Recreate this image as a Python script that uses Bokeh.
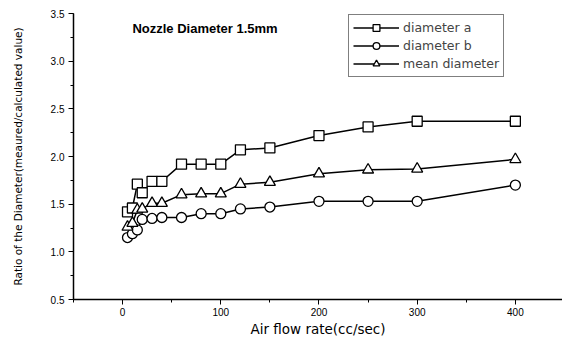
from bokeh.plotting import figure
from bokeh.models import Range1d, Label, Legend, LegendItem, SingleIntervalTicker, NumeralTickFormatter
from bokeh.embed import file_html
from bokeh.resources import INLINE

air_flow = [5, 10, 15, 20, 30, 40, 60, 80, 100, 120, 150, 200, 250, 300, 400]
diameter_a = [1.42, 1.46, 1.71, 1.62, 1.74, 1.74, 1.92, 1.92, 1.92, 2.07, 2.09, 2.22, 2.31, 2.37, 2.37]
diameter_b = [1.15, 1.19, 1.23, 1.34, 1.35, 1.36, 1.36, 1.40, 1.40, 1.45, 1.47, 1.53, 1.53, 1.53, 1.70]
mean_diameter = [1.26, 1.30, 1.44, 1.45, 1.51, 1.51, 1.60, 1.61, 1.61, 1.71, 1.73, 1.82, 1.86, 1.87, 1.97]

FONT = "Liberation Sans"
WIDE = "DejaVu Sans"

p = figure(width=562, height=339, output_backend="svg", toolbar_location=None,
           x_range=Range1d(-50, 448), y_range=Range1d(0.5, 3.5),
           min_border_left=73, min_border_right=0, min_border_top=13, min_border_bottom=40)
p.outline_line_color = None
p.grid.visible = False
p.background_fill_color = "white"

for ax in (p.xaxis[0], p.yaxis[0]):
    ax.axis_line_color = "black"
    ax.axis_line_width = 1.5
    ax.major_tick_line_color = "black"
    ax.minor_tick_line_color = "black"
    ax.major_tick_out = 5
    ax.major_tick_in = 0
    ax.minor_tick_out = 3
    ax.minor_tick_in = 0
    ax.major_label_text_font = FONT
    ax.major_label_text_font_size = "10px"
    ax.major_label_text_color = "black"
    ax.axis_label_text_font = WIDE
    ax.axis_label_text_font_style = "normal"
    ax.axis_label_text_color = "black"

p.xaxis.ticker = SingleIntervalTicker(interval=100, num_minor_ticks=2)
p.yaxis.ticker = SingleIntervalTicker(interval=0.5, num_minor_ticks=2)
p.yaxis.formatter = NumeralTickFormatter(format="0.0")
p.xaxis.axis_label = "Air flow rate(cc/sec)"
p.xaxis.axis_label_text_font_size = "13.5px"
p.xaxis.axis_label_standoff = 2
p.xaxis.major_label_standoff = 3
p.yaxis.axis_label = "Ratio of the Diameter(meaured/calculated value)"
p.yaxis.axis_label_text_font_size = "10.5px"
p.yaxis.axis_label_standoff = 24
p.yaxis.major_label_standoff = 4

lw = 1.5
la = p.line(air_flow, diameter_a, line_color="black", line_width=lw)
sa = p.scatter(air_flow, diameter_a, marker="square", size=10, fill_color="white",
               line_color="black", line_width=1.3)
lb = p.line(air_flow, diameter_b, line_color="black", line_width=lw)
sb = p.scatter(air_flow, diameter_b, marker="circle", size=10, fill_color="white",
               line_color="black", line_width=1.3)
lm = p.line(air_flow, mean_diameter, line_color="black", line_width=lw)
sm = p.scatter(air_flow, mean_diameter, marker="triangle", size=11, fill_color="white",
               line_color="black", line_width=1.3)

legend = Legend(items=[
    LegendItem(label="diameter a", renderers=[la, sa]),
    LegendItem(label="diameter b", renderers=[lb, sb]),
    LegendItem(label="mean diameter", renderers=[lm, sm]),
], location=(275, 222))
legend.border_line_color = "black"
legend.border_line_width = 1
legend.background_fill_alpha = 1
legend.label_text_font = WIDE
legend.label_text_font_size = "12.5px"
legend.glyph_width = 46
legend.glyph_height = 17
legend.label_height = 17
legend.spacing = 1
legend.padding = 4
legend.margin = 0
legend.label_standoff = 4
p.add_layout(legend, "center")

title = Label(x=10, y=3.34, text="Nozzle Diameter 1.5mm", text_font=FONT,
              text_font_size="13px", text_font_style="bold", text_baseline="middle",
              text_color="black")
p.add_layout(title)

open("out.html", "w").write(file_html(p, INLINE))
